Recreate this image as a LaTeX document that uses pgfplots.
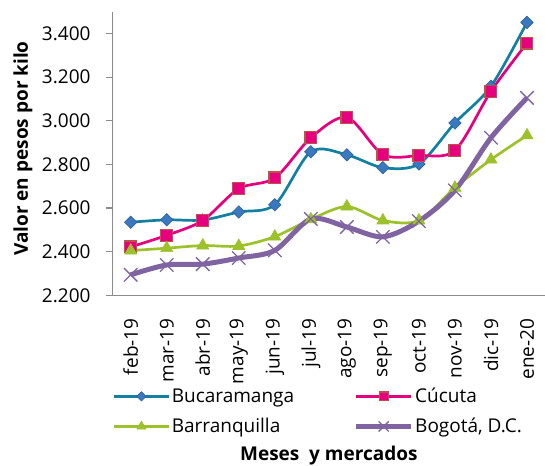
\documentclass[border=0pt]{standalone}
\usepackage{pgfplots}
\pgfplotsset{compat=1.18}
\usepackage{fontspec}
\setmainfont{Open Sans}
\usetikzlibrary{calc}
\definecolor{cBuc}{HTML}{1380A1}
\definecolor{cBucM}{HTML}{3A78C0}
\definecolor{cCuc}{HTML}{E6007E}
\definecolor{cCucB}{HTML}{C0504D}
\definecolor{cBar}{HTML}{9DC12B}
\definecolor{cBog}{HTML}{8064A2}
\definecolor{axgray}{HTML}{8C8C8C}
\newcommand{\tf}{\fontsize{19bp}{23bp}\selectfont}
\begin{document}
\begin{tikzpicture}
\begin{axis}[
  scale only axis, width=432.3bp, height=283.6bp,
  xmin=-0.5, xmax=11.5, ymin=2200, ymax=3500,
  axis x line*=bottom, axis y line*=left,
  axis line style={draw=axgray, line width=1.2bp},
  xtick={0,...,11},
  xticklabels={feb-19,mar-19,abr-19,may-19,jun-19,jul-19,ago-19,sep-19,oct-19,nov-19,dic-19,ene-20},
  xtick style={draw=none},
  ytick={2200,2400,...,3400},
  ytick style={draw=axgray, line width=1.2bp},
  tick align=outside, major tick length=7bp,
  /pgf/number format/1000 sep={.},
  /pgf/number format/assume math mode=true,
  yticklabel style={font=\tf, anchor=east, inner sep=0pt, xshift=-15bp},
  xticklabel style={font=\tf, yshift=-16bp, rotate=90, anchor=east, inner sep=0pt},
  ylabel={Valor en pesos por kilo},
  ylabel style={font=\tf\bfseries, at={(axis description cs:-0.2076,0.5176)}, anchor=center, rotate=0},
  xlabel={Meses\ \ y mercados},
  xlabel style={font=\tf\bfseries, at={(axis description cs:0.5,-0.566)}, anchor=center},
  legend columns=2,
  legend cell align=left,
  legend style={at={(axis description cs:0.475,-0.322)}, anchor=north, draw=none, font=\tf,
    inner sep=0pt, row sep=11bp,
    nodes={inner sep=1.5bp},
    /tikz/every even column/.append style={column sep=58bp}},
  legend image code/.code={\draw[mark repeat=2,mark phase=2,#1] plot coordinates {(0bp,0bp) (27.5bp,0bp) (55bp,0bp)};},
  legend image post style={/tikz/every mark/.append style={scale=0.75}},
  smooth, tension=0.5,
]
\addplot[cBuc, line width=2.7bp, mark=square*, mark size=4.4bp,
  mark options={rotate=45, fill=cBucM, draw=cBucM!80!black, line width=0.6bp}]
  coordinates {(0,2535) (1,2546) (2,2545) (3,2582) (4,2615) (5,2858) (6,2844) (7,2785) (8,2802) (9,2990) (10,3158) (11,3451)};
\addlegendentry{Bucaramanga}
\addplot[cCuc, line width=2.7bp, mark=square*, mark size=5.9bp,
  mark options={fill=cCuc, draw=cCucB, line width=1.2bp}]
  coordinates {(0,2422) (1,2475) (2,2543) (3,2689) (4,2738) (5,2922) (6,3016) (7,2845) (8,2841) (9,2864) (10,3135) (11,3356)};
\addlegendentry{Cúcuta}
\addplot[cBar, line width=2.7bp, mark=triangle*, mark size=7bp,
  mark options={fill=cBar, draw=cBar, line width=0.6bp}]
  coordinates {(0,2405) (1,2416) (2,2428) (3,2426) (4,2469) (5,2548) (6,2607) (7,2543) (8,2543) (9,2693) (10,2822) (11,2933)};
\addlegendentry{Barranquilla}
\addplot[cBog, line width=5bp, mark=x, mark size=9.5bp,
  mark options={draw=cBog, line width=1.3bp}]
  coordinates {(0,2294) (1,2339) (2,2343) (3,2371) (4,2406) (5,2550) (6,2513) (7,2468) (8,2540) (9,2681) (10,2922) (11,3105)};
\addlegendentry{Bogotá, D.C.}
\end{axis}
\pgfresetboundingbox
\path ($(current axis.south west)+(-112.7bp,-170.7bp)$) rectangle ($(current axis.north east)+(0bp,11.7bp)$);
\end{tikzpicture}
\end{document}
